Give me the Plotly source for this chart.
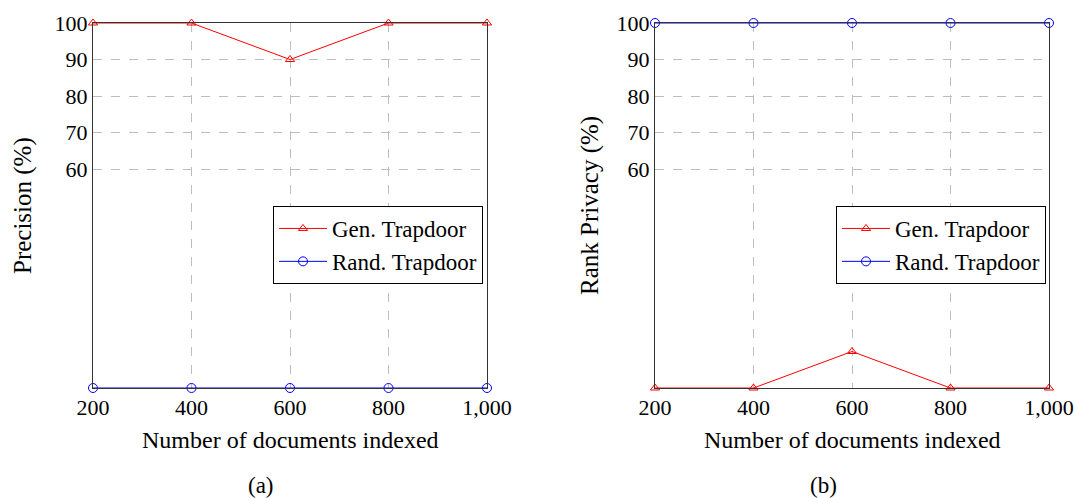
import plotly.graph_objects as go
from plotly.subplots import make_subplots

docs = [200, 400, 600, 800, 1000]
precision_gen = [100, 100, 90, 100, 100]
precision_rand = [0, 0, 0, 0, 0]
privacy_gen = [0, 0, 10, 0, 0]
privacy_rand = [100, 100, 100, 100, 100]
x_ticks = [200, 400, 600, 800, 1000]
x_ticklabels = ["200", "400", "600", "800", "1,000"]
y_ticks = [60, 70, 80, 90, 100]

FONT = "Liberation Serif"
RED = "#ff0000"
BLUE = "#0000ff"

fig = make_subplots(rows=1, cols=2)

def add(col, gen, rand):
    lg = "legend" if col == 1 else "legend2"
    fig.add_trace(go.Scatter(x=docs, y=gen, mode="lines+markers", name="Gen. Trapdoor",
                             line=dict(color=RED, width=1),
                             marker=dict(symbol="triangle-up-open", size=8, color=RED, line=dict(width=1)),
                             legend=lg, cliponaxis=False),
                  row=1, col=col)
    fig.add_trace(go.Scatter(x=docs, y=rand, mode="lines+markers", name="Rand. Trapdoor",
                             line=dict(color=BLUE, width=1),
                             marker=dict(symbol="circle-open", size=9, color=BLUE, line=dict(width=1)),
                             legend=lg, cliponaxis=False),
                  row=1, col=col)

add(1, precision_gen, precision_rand)
add(2, privacy_gen, privacy_rand)

W, H = 1078, 498
top = 1 - 23 / H
bot = 1 - 388 / H

axis_common = dict(showline=True, mirror=True, linecolor="#333", linewidth=1,
                   gridcolor="#bdbdbd", griddash="dash", gridwidth=1, zeroline=False,
                   tickfont=dict(family=FONT, size=22, color="black"), ticks="",
                   automargin=False)

def ann(text, x, y, size=24, angle=0):
    return dict(text=text, x=x / W, y=1 - y / H, xref="paper", yref="paper",
                showarrow=False, textangle=angle, xanchor="center", yanchor="middle",
                font=dict(family=FONT, size=size, color="black"))

legend_common = dict(yanchor="top", xanchor="right", bordercolor="black", borderwidth=1,
                     bgcolor="white", font=dict(family=FONT, size=23),
                     tracegroupgap=0, itemwidth=48)

fig.update_layout(
    width=W, height=H, margin=dict(l=0, r=0, t=0, b=0, autoexpand=False),
    plot_bgcolor="white", paper_bgcolor="white",
    font=dict(family=FONT, color="black"),
    xaxis=dict(domain=[93 / W, 487 / W], range=[200, 1000], tickvals=x_ticks,
               ticktext=x_ticklabels, **axis_common),
    xaxis2=dict(domain=[655 / W, 1049 / W], range=[200, 1000], tickvals=x_ticks,
                ticktext=x_ticklabels, **axis_common),
    yaxis=dict(domain=[bot, top], range=[0, 100], tickvals=y_ticks, **axis_common),
    yaxis2=dict(domain=[bot, top], range=[0, 100], tickvals=y_ticks, **axis_common),
    legend=dict(x=483 / W, y=1 - 206 / H, **legend_common),
    legend2=dict(x=1046 / W, y=1 - 206 / H, **legend_common),
    annotations=[
        ann("Number of documents indexed", 290, 440),
        ann("Number of documents indexed", 852, 440),
        ann("Precision (%)", 23, 206, size=25, angle=-90),
        ann("Rank Privacy (%)", 590, 206, size=25, angle=-90),
        ann("(a)", 261, 485, size=23),
        ann("(b)", 823, 485, size=23),
    ],
)

fig.write_html("out.html")
